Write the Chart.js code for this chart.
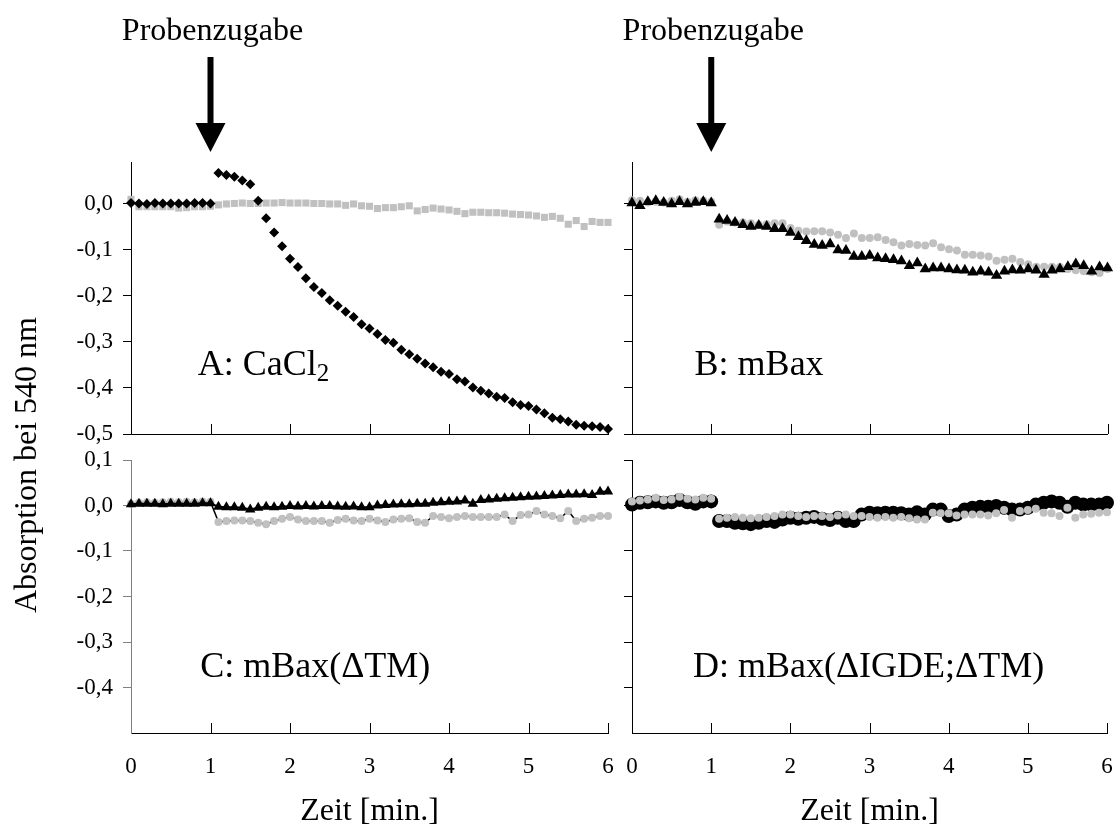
<!DOCTYPE html>
<html>
<head>
<meta charset="utf-8">
<script src="https://cdn.jsdelivr.net/npm/chart.js@4"></script>
<style>
  body { margin: 0; background: #fff; width: 1114px; height: 829px; position: relative; overflow: hidden; font-family: "Liberation Serif", serif; }
  .pane { position: absolute; }
  #yTitle { position: absolute; left: 25px; top: 465px; transform: translate(-50%, -50%) rotate(-90deg);
            font-size: 32px; line-height: 1; white-space: nowrap; color: #000; }
</style>
</head>
<body>
<div class="pane" style="left:0;top:0;width:620px;height:446px"><canvas id="chartA"></canvas></div>
<div class="pane" style="left:612px;top:0;width:502px;height:446px"><canvas id="chartB"></canvas></div>
<div class="pane" style="left:0;top:446px;width:620px;height:383px"><canvas id="chartC"></canvas></div>
<div class="pane" style="left:612px;top:446px;width:502px;height:383px"><canvas id="chartD"></canvas></div>
<div id="yTitle">Absorption bei 540 nm</div>

<script>
// time in minutes
const time = [0, 0.1, 0.2, 0.3, 0.4, 0.5, 0.6, 0.7, 0.8, 0.9, 1.0,
  1.1, 1.2, 1.3, 1.4, 1.5, 1.6, 1.7, 1.8, 1.9, 2.0,
  2.1, 2.2, 2.3, 2.4, 2.5, 2.6, 2.7, 2.8, 2.9, 3.0,
  3.1, 3.2, 3.3, 3.4, 3.5, 3.6, 3.7, 3.8, 3.9, 4.0,
  4.1, 4.2, 4.3, 4.4, 4.5, 4.6, 4.7, 4.8, 4.9, 5.0,
  5.1, 5.2, 5.3, 5.4, 5.5, 5.6, 5.7, 5.8, 5.9, 6.0];

// A: CaCl2
const aDia = [0.001, 0.000, -0.001, 0.001, 0.000, 0.000, 0.000, 0.000, 0.001, 0.001, 0.000,
  0.066, 0.062, 0.058, 0.050, 0.042, 0.006, -0.032, -0.063, -0.093, -0.120,
  -0.138, -0.162, -0.181, -0.194, -0.210, -0.222, -0.235, -0.246, -0.262, -0.271,
  -0.283, -0.296, -0.302, -0.317, -0.327, -0.337, -0.347, -0.355, -0.365, -0.370,
  -0.381, -0.386, -0.399, -0.406, -0.412, -0.419, -0.422, -0.431, -0.437, -0.439,
  -0.447, -0.455, -0.465, -0.468, -0.473, -0.480, -0.482, -0.483, -0.485, -0.489];
const aSq = [0.009, -0.007, -0.007, -0.007, -0.007, -0.007, -0.010, -0.009, -0.007, -0.007, -0.006,
  -0.003, -0.001, 0.000, 0.001, 0.000, 0.000, 0.001, 0.001, 0.002, 0.001,
  0.001, 0.001, 0.000, 0.000, -0.001, -0.001, -0.004, -0.001, -0.005, -0.006,
  -0.011, -0.009, -0.009, -0.007, -0.005, -0.016, -0.013, -0.010, -0.012, -0.014,
  -0.017, -0.022, -0.019, -0.019, -0.020, -0.020, -0.021, -0.023, -0.024, -0.025,
  -0.027, -0.030, -0.028, -0.032, -0.045, -0.037, -0.050, -0.039, -0.041, -0.041];

// B: mBax
const bTri = [0.001, -0.005, 0.004, 0.006, 0.002, -0.001, 0.004, -0.001, 0.002, 0.004, 0.001,
  -0.034, -0.037, -0.041, -0.046, -0.050, -0.048, -0.050, -0.055, -0.055, -0.063,
  -0.072, -0.081, -0.089, -0.091, -0.088, -0.101, -0.102, -0.115, -0.115, -0.113,
  -0.118, -0.120, -0.122, -0.125, -0.135, -0.129, -0.142, -0.140, -0.140, -0.142,
  -0.144, -0.145, -0.149, -0.147, -0.149, -0.156, -0.147, -0.144, -0.145, -0.142,
  -0.145, -0.154, -0.145, -0.142, -0.137, -0.131, -0.135, -0.147, -0.138, -0.140];
const bCir = [0.007, 0.006, 0.002, 0.004, 0.002, 0.006, 0.009, 0.004, 0.007, 0.006, 0.004,
  -0.046, -0.039, -0.041, -0.041, -0.043, -0.046, -0.045, -0.043, -0.043, -0.053,
  -0.059, -0.061, -0.060, -0.060, -0.063, -0.068, -0.075, -0.065, -0.075, -0.075,
  -0.073, -0.079, -0.084, -0.091, -0.088, -0.090, -0.091, -0.086, -0.095, -0.099,
  -0.102, -0.111, -0.111, -0.113, -0.115, -0.124, -0.122, -0.120, -0.127, -0.132,
  -0.137, -0.137, -0.137, -0.138, -0.142, -0.145, -0.147, -0.149, -0.151, -0.142];

// C: mBax(dTM)
const cTri = [0.003, 0.004, 0.004, 0.004, 0.003, 0.004, 0.004, 0.004, 0.004, 0.005, 0.005,
  -0.003, -0.004, -0.004, -0.005, -0.009, -0.005, -0.003, -0.004, -0.003, -0.001,
  -0.002, -0.001, -0.002, -0.001, -0.001, -0.002, -0.003, -0.002, -0.004, -0.004,
  0.000, 0.001, 0.002, 0.003, 0.003, 0.004, 0.004, 0.006, 0.007, 0.008,
  0.009, 0.011, 0.004, 0.012, 0.013, 0.015, 0.016, 0.017, 0.018, 0.019,
  0.020, 0.021, 0.022, 0.023, 0.024, 0.024, 0.025, 0.023, 0.030, 0.031];
const cCir = [0.004, 0.006, 0.007, 0.006, 0.007, 0.008, 0.007, 0.008, 0.007, 0.009, 0.008,
  -0.036, -0.034, -0.033, -0.033, -0.034, -0.038, -0.041, -0.034, -0.029, -0.025,
  -0.031, -0.034, -0.034, -0.034, -0.038, -0.032, -0.029, -0.033, -0.034, -0.029,
  -0.033, -0.036, -0.031, -0.029, -0.028, -0.036, -0.038, -0.023, -0.025, -0.028,
  -0.025, -0.023, -0.025, -0.025, -0.025, -0.025, -0.020, -0.034, -0.021, -0.020,
  -0.012, -0.020, -0.023, -0.028, -0.012, -0.034, -0.029, -0.027, -0.023, -0.023];

// D: mBax(dIGDE;dTM)
const dBig = [0.002, 0.006, 0.007, 0.009, 0.006, 0.007, 0.012, 0.007, 0.004, 0.009, 0.009,
  -0.034, -0.034, -0.038, -0.039, -0.041, -0.038, -0.034, -0.036, -0.031, -0.027,
  -0.029, -0.027, -0.025, -0.029, -0.032, -0.027, -0.034, -0.034, -0.020, -0.016,
  -0.017, -0.016, -0.016, -0.017, -0.020, -0.015, -0.020, -0.009, -0.009, -0.023,
  -0.020, -0.009, -0.005, -0.003, -0.003, -0.001, -0.005, -0.009, -0.009, -0.005,
  0.002, 0.006, 0.009, 0.006, -0.003, 0.006, 0.002, 0.002, 0.002, 0.006];
const dCir = [0.009, 0.011, 0.013, 0.017, 0.012, 0.013, 0.019, 0.015, 0.013, 0.017, 0.015,
  -0.029, -0.027, -0.025, -0.027, -0.028, -0.027, -0.025, -0.023, -0.020, -0.020,
  -0.023, -0.025, -0.023, -0.023, -0.025, -0.022, -0.020, -0.023, -0.023, -0.025,
  -0.027, -0.025, -0.027, -0.025, -0.028, -0.031, -0.031, -0.016, -0.017, -0.017,
  -0.022, -0.020, -0.020, -0.020, -0.022, -0.017, -0.010, -0.027, -0.012, -0.010,
  -0.007, -0.016, -0.017, -0.023, -0.005, -0.027, -0.020, -0.018, -0.016, -0.015];

// axis ticks
const xTicks = [0, 1, 2, 3, 4, 5, 6];
const xTickLabels = ['0', '1', '2', '3', '4', '5', '6'];
const yTicksTop = [0, -0.1, -0.2, -0.3, -0.4, -0.5];
const yLabelsTop = ['0,0', '-0,1', '-0,2', '-0,3', '-0,4', '-0,5'];
const yTicksBottom = [0.1, 0, -0.1, -0.2, -0.3, -0.4];
const yLabelsBottom = ['0,1', '0,0', '-0,1', '-0,2', '-0,3', '-0,4'];

const GREY = 'rgb(192,192,192)';
const FONT = 'Liberation Serif';

function series(values, style) {
  return Object.assign({
    data: time.map((t, i) => ({x: t, y: values[i]})),
    showLine: false,
    clip: false,
    pointBorderWidth: 0
  }, style);
}

// panel label, arrow and inward x tick marks
const panelText = {
  id: 'panelText',
  beforeDatasetsDraw(chart) {
    const {ctx, chartArea, scales: {x}} = chart;
    ctx.save();
    ctx.strokeStyle = '#000';
    ctx.lineWidth = 1;
    xTicks.slice(1).forEach(v => {
      const px = Math.round(x.getPixelForValue(v)) + 0.5;
      ctx.beginPath();
      ctx.moveTo(px, chartArea.bottom);
      ctx.lineTo(px, chartArea.bottom - 10);
      ctx.stroke();
    });
    ctx.restore();
  },
  afterDatasetsDraw(chart, args, o) {
    const {ctx, chartArea, scales: {x, y}} = chart;
    ctx.save();
    ctx.fillStyle = '#000';
    ctx.textBaseline = 'alphabetic';
    ctx.textAlign = 'left';
    ctx.font = '36px "' + FONT + '"';
    const lx = x.getPixelForValue(o.lx), ly = y.getPixelForValue(o.ly);
    ctx.fillText(o.label, lx, ly);
    if (o.sub) {
      const w = ctx.measureText(o.label).width;
      ctx.font = '25px "' + FONT + '"';
      ctx.fillText(o.sub, lx + w, ly + 6);
    }
    if (o.arrow) {
      const ax = x.getPixelForValue(1);
      const top = chartArea.top;
      ctx.font = '32px "' + FONT + '"';
      ctx.textAlign = 'center';
      ctx.fillText('Probenzugabe', ax + 2, top - 122);
      ctx.fillRect(ax - 3, top - 105, 6, 68);
      ctx.beginPath();
      ctx.moveTo(ax - 15, top - 39);
      ctx.lineTo(ax + 15, top - 39);
      ctx.lineTo(ax, top - 10);
      ctx.closePath();
      ctx.fill();
    }
    ctx.restore();
  }
};

function makePanel(id, sets, o) {
  const tickFont = {family: FONT, size: 23};
  return new Chart(document.getElementById(id), {
    type: 'scatter',
    data: {datasets: sets},
    options: {
      responsive: true,
      maintainAspectRatio: false,
      animation: false,
      events: [],
      layout: {padding: o.pad},
      plugins: {legend: {display: false}, tooltip: {enabled: false}, panelText: o.text},
      scales: {
        x: {
          type: 'linear', min: 0, max: 6,
          afterBuildTicks: s => { s.ticks = xTicks.map(v => ({value: v})); },
          ticks: {display: o.xLabels, padding: 12, color: '#000', font: tickFont,
                  callback: (v, i) => xTickLabels[i]},
          grid: {display: false},
          border: {display: true, color: '#000', width: 1},
          title: {display: o.xLabels, text: 'Zeit [min.]', color: '#000',
                  font: {family: FONT, size: 32, lineHeight: 1.1}, padding: {top: 0, bottom: 0}},
          afterFit: s => { s.height = o.xH; s.paddingLeft = 0; s.paddingRight = 0; }
        },
        y: {
          type: 'linear', min: o.yMin, max: o.yMax,
          afterBuildTicks: s => { s.ticks = o.yTicks.map(v => ({value: v})); },
          ticks: {display: o.yLabels, padding: 10, color: '#000', font: tickFont,
                  callback: (v, i) => o.yTickLabels[i]},
          grid: {drawOnChartArea: false, drawTicks: true, tickLength: 8, color: o.yColor},
          border: {display: true, color: o.yColor, width: 1},
          afterFit: s => { s.width = o.yW; s.paddingTop = 0; s.paddingBottom = 0; }
        }
      }
    },
    plugins: [panelText]
  });
}

const diamond = {pointStyle: 'rectRot', pointRadius: 5, pointBackgroundColor: '#000'};
const square = {pointStyle: 'rect', pointRadius: 5, pointBackgroundColor: GREY};
const triangle = {pointStyle: 'triangle', pointRadius: 6.5, pointBackgroundColor: '#000'};
const greyDot = {pointStyle: 'circle', pointRadius: 4, pointBackgroundColor: GREY};

window.onload = function () {
  makePanel('chartA', [series(aDia, diamond), series(aSq, square)], {
    pad: {top: 162, right: 12, left: 0, bottom: 0}, xH: 12, yW: 131, xLabels: false, yLabels: true,
    yMin: -0.5, yMax: 0.09, yTicks: yTicksTop, yTickLabels: yLabelsTop, yColor: '#000',
    text: {label: 'A: CaCl', sub: '2', lx: 0.84, ly: -0.372, arrow: true}
  });
  makePanel('chartB', [series(bTri, triangle), series(bCir, greyDot)], {
    pad: {top: 162, right: 6, left: 0, bottom: 0}, xH: 12, yW: 20, xLabels: false, yLabels: false,
    yMin: -0.5, yMax: 0.09, yTicks: yTicksTop, yTickLabels: yLabelsTop, yColor: '#000',
    text: {label: 'B: mBax', lx: 0.79, ly: -0.372, arrow: true}
  });
  makePanel('chartC', [
    series(cTri, Object.assign({}, triangle, {pointRadius: 6, showLine: true, borderColor: '#000', borderWidth: 2})),
    series(cCir, Object.assign({}, greyDot, {showLine: true, borderColor: '#000', borderWidth: 1.5}))
  ], {
    pad: {top: 14, right: 12, left: 0, bottom: 0}, xH: 96, yW: 131, xLabels: true, yLabels: true,
    yMin: -0.5, yMax: 0.1, yTicks: yTicksBottom, yTickLabels: yLabelsBottom, yColor: '#808080',
    text: {label: 'C: mBax(\u0394TM)', lx: 0.87, ly: -0.377}
  });
  makePanel('chartD', [
    series(dCir, greyDot),
    series(dBig, {pointStyle: 'circle', pointRadius: 7, pointBackgroundColor: '#000'})
  ], {
    pad: {top: 14, right: 6, left: 0, bottom: 0}, xH: 96, yW: 20, xLabels: true, yLabels: false,
    yMin: -0.5, yMax: 0.1, yTicks: yTicksBottom, yTickLabels: yLabelsBottom, yColor: '#000',
    text: {label: 'D: mBax(\u0394IGDE;\u0394TM)', lx: 0.77, ly: -0.377}
  });
};
</script>
</body>
</html>
